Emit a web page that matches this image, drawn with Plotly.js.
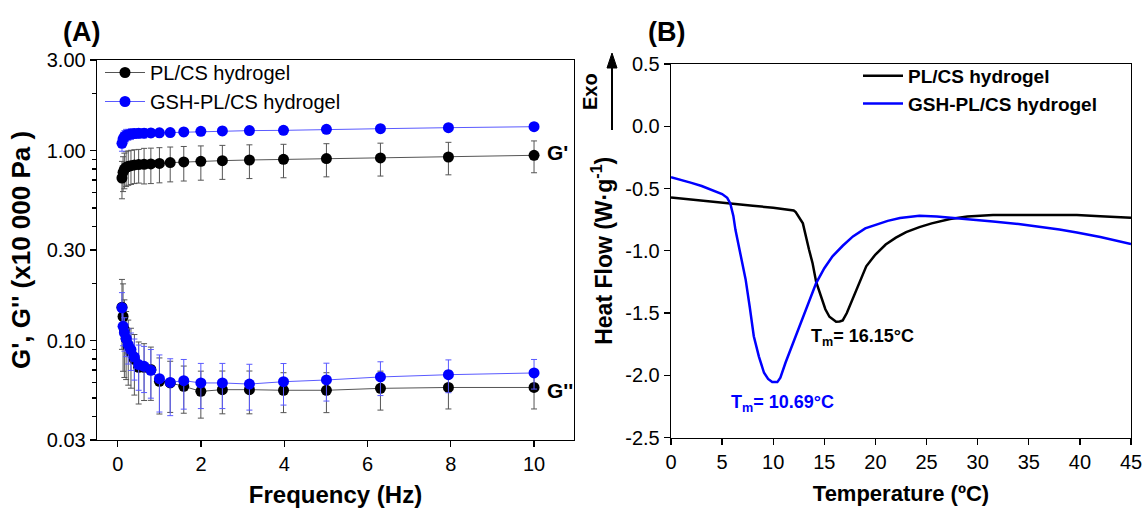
<!DOCTYPE html>
<html><head><meta charset="utf-8">
<script src="https://cdn.plot.ly/plotly-3.0.1.min.js"></script>
<style>html,body{margin:0;padding:0;background:#fff}#chart{width:1143px;height:508px}</style>
</head><body><div id="chart"></div>
<script>
// ---- Panel A data: frequency sweep ----
const freq = [0.1,0.126,0.158,0.2,0.251,0.316,0.398,0.501,0.631,0.794,1.0,1.259,1.585,1.995,2.512,3.162,3.981,5.012,6.31,7.943,10.0];
const gp_pl   = [0.718,0.769,0.80,0.817,0.827,0.834,0.841,0.845,0.848,0.851,0.857,0.865,0.872,0.879,0.886,0.893,0.90,0.908,0.915,0.926,0.945];
const gp_pl_err = [0.16,0.16,0.17,0.17,0.17,0.17,0.17,0.17,0.18,0.18,0.18,0.18,0.18,0.18,0.18,0.18,0.18,0.18,0.18,0.18,0.18];
const gp_gsh  = [1.093,1.15,1.185,1.204,1.214,1.224,1.230,1.234,1.236,1.239,1.241,1.245,1.254,1.264,1.27,1.275,1.279,1.295,1.305,1.321,1.337];
const gp_gsh_err = [0.1,0.1,0.09,0.09,0.08,0.08,0.07,0.07,0.07,0.06,0.06,0.06,0.06,0.06,0.06,0.06,0.06,0.06,0.06,0.06,0.06];
const gpp_pl  = [0.15,0.134,0.114,0.1024,0.0933,0.0862,0.0797,0.0724,0.0724,0.0705,0.0611,0.0599,0.0575,0.0541,0.0552,0.0552,0.0548,0.0548,0.0561,0.0567,0.0567];
const gpp_pl_err = [0.06,0.065,0.05,0.04,0.035,0.03,0.028,0.026,0.024,0.022,0.02,0.018,0.016,0.015,0.014,0.014,0.013,0.013,0.013,0.013,0.013];
const gpp_gsh = [0.149,0.119,0.110,0.1024,0.0953,0.0897,0.082,0.0748,0.0733,0.0698,0.0631,0.0603,0.0616,0.0599,0.0599,0.0591,0.0608,0.0621,0.0644,0.0662,0.0676];
const gpp_gsh_err = [0.03,0.025,0.022,0.02,0.02,0.02,0.02,0.02,0.02,0.02,0.021,0.02,0.018,0.016,0.016,0.016,0.015,0.014,0.013,0.013,0.012];
const yTickValsA = [0.03,0.1,0.3,1,3];
const yTickTextA = ["0.03","0.10","0.30","1.00","3.00"];
const yMinorA = [0.04,0.05,0.06,0.07,0.08,0.09,0.2,0.4,0.5,0.6,0.7,0.8,0.9,2];
const xTickValsA = [0,2,4,6,8,10];

// ---- Panel B data: DSC ----
const tPL = [0,2,4,6,8,10,11,12,12.2,12.9,13.5,13.85,14.2,14.7,15.1,15.5,16.0,16.15,16.5,16.8,17.2,17.6,18.0,18.5,19.1,20.0,21.0,22.0,23.0,24.3,25.5,27.3,29,31.5,35,39.7,42,45];
const hfPL = [-0.572,-0.59,-0.607,-0.622,-0.638,-0.655,-0.664,-0.676,-0.689,-0.78,-0.99,-1.10,-1.25,-1.37,-1.47,-1.53,-1.56,-1.57,-1.568,-1.56,-1.5,-1.42,-1.33,-1.23,-1.125,-1.03,-0.95,-0.895,-0.85,-0.81,-0.78,-0.745,-0.725,-0.713,-0.711,-0.713,-0.722,-0.735];
const tGSH = [0,1,2,3,4,5,5.5,5.8,6.1,6.3,6.8,7.3,7.7,8.1,8.6,9.1,9.5,9.9,10.4,10.7,11.2,11.8,12.5,13.3,14.2,15,15.8,16.8,17.8,19,20.1,21.2,22.4,24.3,26,27.3,29.5,31.5,34,36.4,38,39.7,42,45];
const hfGSH = [-0.41,-0.43,-0.455,-0.48,-0.51,-0.545,-0.575,-0.62,-0.72,-0.83,-1.03,-1.23,-1.45,-1.687,-1.85,-1.98,-2.03,-2.055,-2.055,-2.02,-1.9,-1.77,-1.633,-1.45,-1.26,-1.14,-1.045,-0.96,-0.885,-0.82,-0.79,-0.76,-0.737,-0.719,-0.725,-0.733,-0.75,-0.765,-0.785,-0.81,-0.83,-0.853,-0.89,-0.946];
const yTickValsB = [0.5,0,-0.5,-1,-1.5,-2,-2.5];
const yTickTextB = ["0.5","0.0","-0.5","-1.0","-1.5","-2.0","-2.5"];
const xTickValsB = [0,5,10,15,20,25,30,35,40,45];

const FONT = "Liberation Sans, Arial, sans-serif";
const GREY = "#555555", BLUE = "#0000ff", LBLUE = "#5a5aff";
const W = 1143, H = 508;
const px = v => v / W, py = v => 1 - v / H;

function errbar(arr, col){return {type:'data', array:arr, visible:true, color:col, thickness:1, width:3};}

const traces = [
  {x:freq, y:gp_pl, error_y:errbar(gp_pl_err,GREY), mode:'lines+markers', name:'PL/CS hydrogel',
   line:{color:GREY,width:1}, marker:{color:'#000',size:11}, xaxis:'x', yaxis:'y', legend:'legend', legendgroup:'a1'},
  {x:freq, y:gp_gsh, error_y:errbar(gp_gsh_err,LBLUE), mode:'lines+markers', name:'GSH-PL/CS hydrogel',
   line:{color:LBLUE,width:1}, marker:{color:BLUE,size:11}, xaxis:'x', yaxis:'y', legend:'legend', legendgroup:'a2'},
  {x:freq, y:gpp_pl, error_y:errbar(gpp_pl_err,GREY), mode:'lines+markers', name:'PL/CS hydrogel',
   line:{color:GREY,width:1}, marker:{color:'#000',size:11}, xaxis:'x', yaxis:'y', showlegend:false, legendgroup:'a1'},
  {x:freq, y:gpp_gsh, error_y:errbar(gpp_gsh_err,LBLUE), mode:'lines+markers', name:'GSH-PL/CS hydrogel',
   line:{color:LBLUE,width:1}, marker:{color:BLUE,size:11}, xaxis:'x', yaxis:'y', showlegend:false, legendgroup:'a2'},
  {x:tPL, y:hfPL, mode:'lines', name:'<b>PL/CS hydrogel</b>', line:{color:'#000',width:2.5}, xaxis:'x2', yaxis:'y2', legend:'legend2'},
  {x:tGSH, y:hfGSH, mode:'lines', name:'<b>GSH-PL/CS hydrogel</b>', line:{color:BLUE,width:2.5}, xaxis:'x2', yaxis:'y2', legend:'legend2'}
];

const axBase = {showline:true, linecolor:'#000', linewidth:1.3, mirror:true, ticks:'outside', ticklen:6, tickwidth:1.3, tickcolor:'#000',
  showgrid:false, zeroline:false, tickfont:{family:FONT, size:20, color:'#000'}};

const layout = {
  width:W, height:H, margin:{l:0,r:0,t:0,b:0}, paper_bgcolor:'#fff', plot_bgcolor:'#fff',
  font:{family:FONT, color:'#000'},
  xaxis: Object.assign({}, axBase, {domain:[px(97), px(574)], range:[-0.50, 10.96], tickmode:'array', tickvals:xTickValsA,
    anchor:'y', title:{text:'<b>Frequency (Hz)</b>', font:{family:FONT,size:24}, standoff:13}}),
  yaxis: Object.assign({}, axBase, {domain:[py(440), py(60)], type:'log', range:[Math.log10(0.03), Math.log10(3)],
    tickmode:'array', tickvals:yTickValsA, ticktext:yTickTextA, anchor:'x',
    minor:{tickmode:'array', tickvals:yMinorA, ticks:'outside', ticklen:4, tickwidth:1.3, tickcolor:'#000'},
    title:{text:"<b>G', G'' (x10 000 Pa )</b>", font:{family:FONT,size:26}, standoff:8}}),
  xaxis2: Object.assign({}, axBase, {domain:[px(671), px(1131)], range:[0,45], tickmode:'array', tickvals:xTickValsB,
    anchor:'y2', title:{text:'<b>Temperature (ºC)</b>', font:{family:FONT,size:22}, standoff:13}}),
  yaxis2: Object.assign({}, axBase, {domain:[py(437.5), py(64)], range:[-2.5,0.5], tickmode:'array', tickvals:yTickValsB,
    ticktext:yTickTextB, anchor:'x2',
    title:{text:'<b>Heat Flow (W·g<sup>-1</sup>)</b>', font:{family:FONT,size:23}, standoff:6}}),
  legend:{x:px(100), y:py(53), xanchor:'left', yanchor:'top', bgcolor:'rgba(0,0,0,0)', font:{family:FONT,size:20},
    tracegroupgap:0, itemwidth:40},
  legend2:{x:px(858), y:py(57), xanchor:'left', yanchor:'top', bgcolor:'rgba(0,0,0,0)', font:{family:FONT,size:19}, itemwidth:40},
  shapes:[
    {type:'line', xref:'paper', yref:'paper', x0:px(612), x1:px(612), y0:py(130), y1:py(64), line:{color:'#000', width:2}},
    {type:'path', xref:'paper', yref:'paper', path:'M '+px(607)+' '+py(68)+' L '+px(612)+' '+py(53)+' L '+px(617)+' '+py(68)+' Z',
     fillcolor:'#000', line:{color:'#000', width:1}}
  ],
  annotations:[
    {xref:'paper', yref:'paper', x:px(61), y:py(32), xanchor:'left', yanchor:'middle', text:'<b>(A)</b>', showarrow:false, font:{family:FONT,size:27}},
    {xref:'paper', yref:'paper', x:px(646), y:py(32), xanchor:'left', yanchor:'middle', text:'<b>(B)</b>', showarrow:false, font:{family:FONT,size:27}},
    {xref:'paper', yref:'paper', x:px(545), y:py(152), xanchor:'left', yanchor:'middle', text:"<b>G'</b>", showarrow:false, font:{family:FONT,size:21}},
    {xref:'paper', yref:'paper', x:px(545), y:py(390), xanchor:'left', yanchor:'middle', text:"<b>G''</b>", showarrow:false, font:{family:FONT,size:21}},
    {xref:'x2', yref:'y2', x:18.7, y:-1.70, xanchor:'center', yanchor:'middle', text:'<b>T<sub>m</sub>= 16.15°C</b>', showarrow:false, font:{family:FONT,size:18,color:'#000'}},
    {xref:'x2', yref:'y2', x:10.9, y:-2.23, xanchor:'center', yanchor:'middle', text:'<b>T<sub>m</sub>= 10.69°C</b>', showarrow:false, font:{family:FONT,size:18,color:BLUE}},
    {xref:'paper', yref:'paper', x:px(590), y:py(92), xanchor:'center', yanchor:'middle', text:'<b>Exo</b>', textangle:-90, showarrow:false, font:{family:FONT,size:20}}
  ]
};

Plotly.newPlot('chart', traces, layout, {staticPlot:true, displayModeBar:false});
</script></body></html>
